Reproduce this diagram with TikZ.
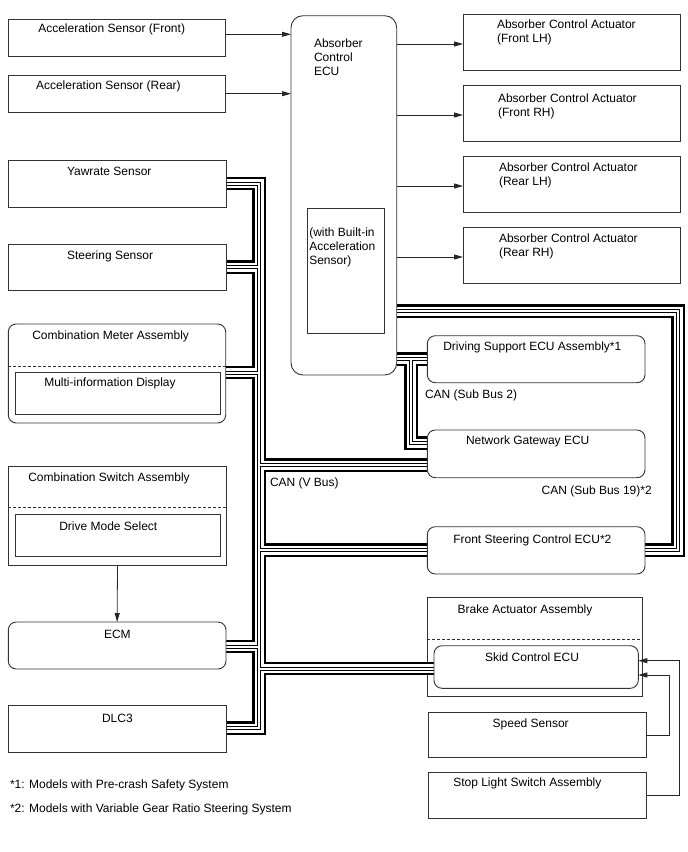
\documentclass[tikz,border=0pt]{standalone}
\usepackage{fontspec}
\setmainfont{Liberation Sans}
\usetikzlibrary{arrows.meta}
\pgfdeclarelayer{bot}
\pgfdeclarelayer{bg}
\pgfsetlayers{bot,bg,main}
\newcommand\busnet[1]{%
  \draw[#1] (yaw.east |- vt) -- (vt) -- (vb) -- (dlc.east |- vb)
    (vst) -- (steer.east |- vst)
    (vcm) -- (cma.east |- vcm)
    (vecm) -- (ecm.east |- vecm)
    (vng) -- (ngw.west |- vng)
    (vfs) -- (fsc.west |- vfs)
    (vsk) -- (skid.west |- vsk)
    (ecu.east |- s2a) -- (dss.west |- s2a)
    (s2a) -- (s2b) -- (ngw.west |- s2b)
    (ecu.east |- s19a) -- (s19a) -- (s19b) -- (fsc.east |- s19b);}
\begin{document}
\begin{tikzpicture}[x=1pt,y=-1pt,
  box/.style={draw=black!80, line width=0.9pt, fill=white, inner sep=0pt, outer sep=0pt, anchor=north west},
  rbox/.style={box, rounded corners=8pt},
  txt/.style={anchor=base west, inner sep=0pt, outer sep=0pt, font=\fontsize{12pt}{14pt}\selectfont},
  arr/.style={draw=black!85, line width=0.8pt, -{Triangle[length=9pt,width=5pt]}},
  dsh/.style={draw=black!80, line width=0.8pt, dash pattern=on 3pt off 2pt},
  busA/.style={line width=13.5pt, black, line cap=butt, line join=miter},
  busB/.style={line width=9pt, white, line cap=butt, line join=miter},
  busC/.style={line width=4pt, black, line cap=butt, line join=miter},
  busD/.style={line width=2pt, white, line cap=butt, line join=miter}]
\useasboundingbox (0,0) rectangle (688,852);

% ---- boxes ----
\node[box, minimum width=216.7pt, minimum height=37pt] (accf) at (8.3,19) {};
\node[box, minimum width=216.7pt, minimum height=37pt] (accr) at (8.3,75.7) {};
\node[rbox, rounded corners=12pt, minimum width=105.7pt, minimum height=359.3pt] (ecu) at (291,15.7) {};
\node[box, minimum width=77pt, minimum height=125pt] (ecuin) at (307.3,208.3) {};
\node[box, minimum width=217pt, minimum height=56pt] (flh) at (463,14) {};
\node[box, minimum width=217pt, minimum height=56pt] (frh) at (463,85) {};
\node[box, minimum width=217pt, minimum height=56pt] (rlh) at (463,156) {};
\node[box, minimum width=217pt, minimum height=56pt] (rrh) at (463,227) {};
\node[box, minimum width=217.7pt, minimum height=47pt] (yaw) at (8.3,160) {};
\node[box, minimum width=217.7pt, minimum height=46pt] (steer) at (8.3,244) {};
\node[rbox, minimum width=217.4pt, minimum height=99pt] (cma) at (8.3,324) {};
\node[box, minimum width=204.3pt, minimum height=41.6pt] (mid) at (15.7,372.7) {};
\node[box, minimum width=218.4pt, minimum height=99pt] (csa) at (8.3,466) {};
\node[box, minimum width=204.3pt, minimum height=42.4pt] (dms) at (15.7,514.3) {};
\node[rbox, minimum width=217.7pt, minimum height=47pt] (ecm) at (8.3,622) {};
\node[box, minimum width=217.7pt, minimum height=47pt] (dlc) at (8.3,705) {};
\node[rbox, minimum width=217.7pt, minimum height=47pt] (dss) at (427.3,335.7) {};
\node[rbox, minimum width=217.7pt, minimum height=47.7pt] (ngw) at (427.3,430) {};
\node[rbox, minimum width=217.7pt, minimum height=47.3pt] (fsc) at (427.3,526.7) {};
\begin{pgfonlayer}{bot}
\node[box, minimum width=215.4pt, minimum height=98.7pt] (bra) at (427.3,597.3) {};
\end{pgfonlayer}
\node[rbox, minimum width=204.3pt, minimum height=42.6pt] (skid) at (434,645.7) {};
\node[box, minimum width=217.7pt, minimum height=45pt] (spd) at (428.3,712.7) {};
\node[box, minimum width=217.7pt, minimum height=45.6pt] (stop) at (428.3,772.7) {};

% dashed separators
\draw[dsh] ([yshift=-42pt]cma.north west) -- ([yshift=-42pt]cma.north east);
\draw[dsh] ([yshift=-41.7pt]csa.north west) -- ([yshift=-41.7pt]csa.north east);
\draw[dsh] ([yshift=-42pt]bra.north west) -- ([yshift=-42pt]bra.north east);

% ---- texts ----
\node[txt] (accfT) at (38.3,32.3) {Acceleration Sensor (Front)};
\node[txt] (accrT) at (36,89.3) {Acceleration Sensor (Rear)};
\node[txt] (ecuT1) at (314,47) {Absorber};
\node[txt] (ecuT2) at (314,61) {Control};
\node[txt] (ecuT3) at (314,75) {ECU};
\node[txt] (inT1) at (309.3,236) {(with Built-in};
\node[txt] (inT2) at (309.3,250) {Acceleration};
\node[txt] (inT3) at (309.3,264) {Sensor)};
\node[txt] (flhT1) at (497,28) {Absorber Control Actuator};
\node[txt] (flhT2) at (497,42) {(Front LH)};
\node[txt] (frhT1) at (498,102) {Absorber Control Actuator};
\node[txt] (frhT2) at (498,116) {(Front RH)};
\node[txt] (rlhT1) at (499,171) {Absorber Control Actuator};
\node[txt] (rlhT2) at (499,185) {(Rear LH)};
\node[txt] (rrhT1) at (499,242) {Absorber Control Actuator};
\node[txt] (rrhT2) at (499,256) {(Rear RH)};
\node[txt] (yawT) at (67,175) {Yawrate Sensor};
\node[txt] (steerT) at (67,259) {Steering Sensor};
\node[txt] (cmaT) at (32.3,339.3) {Combination Meter Assembly};
\node[txt] (midT) at (44.3,386.7) {Multi-information Display};
\node[txt] (csaT) at (28.3,481) {Combination Switch Assembly};
\node[txt] (dmsT) at (59.3,530) {Drive Mode Select};
\node[txt] (ecmT) at (104,638) {ECM};
\node[txt] (dlcT) at (102,722) {DLC3};
\node[txt] (dssT) at (443.3,350) {Driving Support ECU Assembly*1};
\node[txt] (sb2T) at (425,398.3) {CAN (Sub Bus 2)};
\node[txt] (ngwT) at (466,444.3) {Network Gateway ECU};
\node[txt] (sb19T) at (541.7,494.3) {CAN (Sub Bus 19)*2};
\node[txt] (fscT) at (453.3,543.3) {Front Steering Control ECU*2};
\node[txt] (vbT) at (270,486) {CAN (V Bus)};
\node[txt] (braT) at (457.7,613.3) {Brake Actuator Assembly};
\node[txt] (skidT) at (485,661) {Skid Control ECU};
\node[txt] (spdT) at (492.7,727.3) {Speed Sensor};
\node[txt] (stopT) at (453.3,786.7) {Stop Light Switch Assembly};
\node[txt] (fn1) at (10,788) {*1: Models with Pre-crash Safety System};
\node[txt] (fn2) at (10,812) {*2: Models with Variable Gear Ratio Steering System};

% ---- signal arrows ----
\coordinate (a1) at ([yshift=3.2pt]accf.east);
\coordinate (a2) at ([yshift=0.5pt]accr.east);
\draw[arr] (a1) -- (a1 -| ecu.west);
\draw[arr] (a2) -- (a2 -| ecu.west);
\coordinate (o1) at ([yshift=-2pt]flh.west);
\coordinate (o2) at ([yshift=-2pt]frh.west);
\coordinate (o3) at ([yshift=-2pt]rlh.west);
\coordinate (o4) at ([yshift=-2pt]rrh.west);
\draw[arr] (ecu.east |- o1) -- (o1);
\draw[arr] (ecu.east |- o2) -- (o2);
\draw[arr] (ecu.east |- o3) -- (o3);
\draw[arr] (ecu.east |- o4) -- (o4);
\draw[arr] (csa.south) -- (ecm.north);
\coordinate (sk1) at ([yshift=-8pt]skid.east);
\coordinate (sk2) at ([yshift=6.3pt]skid.east);
\draw[arr] (spd.east) -- ++(23.3,0) |- (sk1);
\draw[arr] (stop.east) -- ++(33.3,0) |- (sk2);

% ---- CAN buses ----
\coordinate (vt) at (259,183.5);
\coordinate (vb) at (259,728);
\coordinate (vst) at (259,267);
\coordinate (vcm) at (259,372.5);
\coordinate (vng) at (259,465);
\coordinate (vfs) at (259,550);
\coordinate (vecm) at (259,646.5);
\coordinate (vsk) at (259,668.5);
\coordinate (s2a) at (411,359);
\coordinate (s2b) at (411,443);
\coordinate (s19a) at (678,311);
\coordinate (s19b) at (678,550);
\begin{pgfonlayer}{bg}
\busnet{busA}
\busnet{busB}
\busnet{busC}
\busnet{busD}
\end{pgfonlayer}
\end{tikzpicture}
\end{document}
